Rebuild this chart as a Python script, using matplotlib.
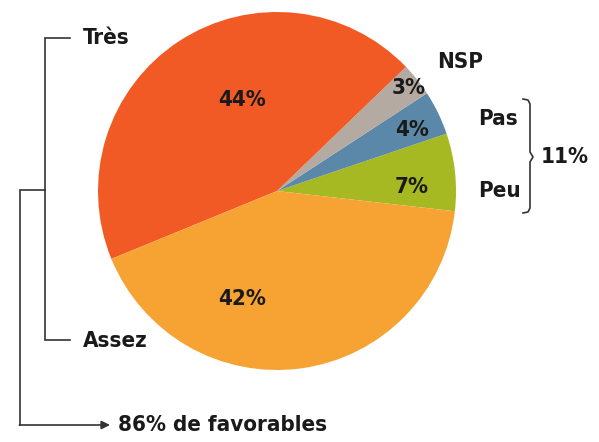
import matplotlib.pyplot as plt

# opinion shares (%)
labels = ["Peu", "Pas", "NSP", "Très", "Assez"]
values = [7, 4, 3, 44, 42]
colors = ["#A7B922", "#5B88A8", "#B4AAA1", "#F15A24", "#F7A334"]

H = 442

def P(x, y):
    # pixel coords (top-left origin) -> data coords
    return x, H - y

font = dict(family=["DejaVu Sans"], stretch="condensed", weight="bold", color="#1a1a1a")
fs = 16

fig = plt.figure(figsize=(5.99, 4.42), dpi=100)
ax = fig.add_axes([0, 0, 1, 1])

ax.pie(values, colors=colors, startangle=-6.5, counterclock=True,
       center=P(277, 191), radius=179, frame=True,
       wedgeprops=dict(linewidth=0))
ax.set_xlim(0, 599)
ax.set_ylim(0, H)
ax.set_aspect("equal")
ax.axis("off")

# percentage labels
pct_pos = {"Peu": (412, 187), "Pas": (412, 130), "NSP": (409, 88),
           "Très": (242, 100), "Assez": (242, 299)}
for lab, v in zip(labels, values):
    ax.text(*P(*pct_pos[lab]), f"{v}%", ha="center", va="center", fontsize=fs, **font)

# category labels
ax.text(*P(83, 38), "Très", ha="left", va="center", fontsize=fs, **font)
ax.text(*P(83, 341), "Assez", ha="left", va="center", fontsize=fs, **font)
ax.text(*P(437, 62), "NSP", ha="left", va="center", fontsize=fs, **font)
ax.text(*P(478, 119), "Pas", ha="left", va="center", fontsize=fs, **font)
ax.text(*P(478, 191), "Peu", ha="left", va="center", fontsize=fs, **font)
ax.text(*P(541, 157), f"{values[0] + values[1]}%", ha="left", va="center", fontsize=fs, **font)
ax.text(*P(118, 425), f"{values[3] + values[4]}% de favorables", ha="left", va="center",
        fontsize=fs, **font)

lc = "#333333"
lw = 1.2
# left bracket Très / Assez
xs, ys = zip(*[P(70, 38), P(45, 38), P(45, 340), P(70, 340)])
ax.plot(xs, ys, color=lc, lw=lw, solid_joinstyle="miter")
xs, ys = zip(*[P(45, 190), P(20, 190), P(20, 425)])
ax.plot(xs, ys, color=lc, lw=lw, solid_joinstyle="miter")
ax.annotate("", xy=P(110, 425), xytext=P(19.4, 425),
            arrowprops=dict(arrowstyle="-|>,head_length=0.5,head_width=0.25",
                            color=lc, lw=lw, shrinkA=0, shrinkB=0))

# right brace Pas / Peu
brace = [(523, 99), (528, 100), (530, 104), (530, 152), (533, 157),
         (530, 162), (530, 208), (528, 212), (523, 213)]
xs, ys = zip(*[P(x, y) for x, y in brace])
ax.plot(xs, ys, color=lc, lw=lw)

fig.savefig("out.png", dpi=100)
